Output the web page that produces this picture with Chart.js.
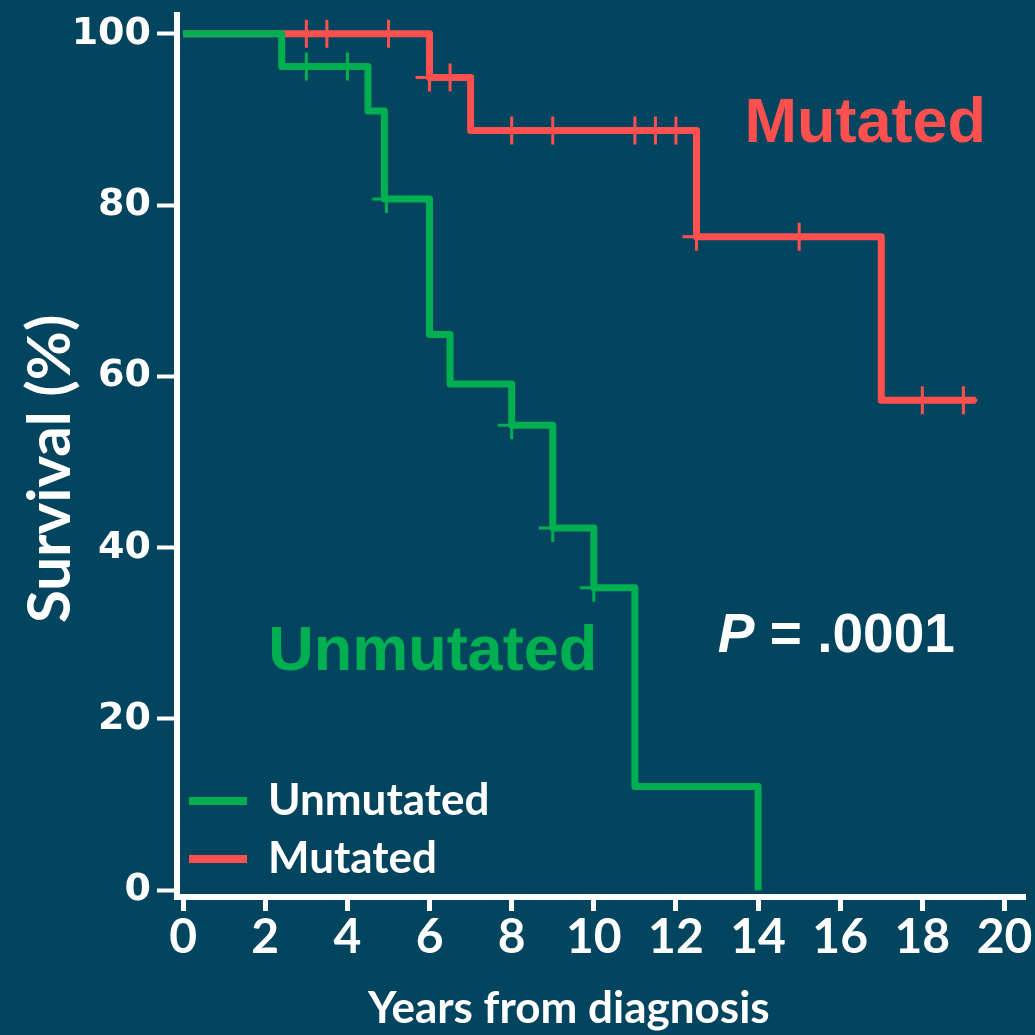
<!DOCTYPE html>
<html>
<head>
<meta charset="utf-8">
<script src="https://cdn.jsdelivr.net/npm/chart.js@4.4.1/dist/chart.umd.min.js"></script>
<style>
    html, body { margin: 0; padding: 0; background: #03445e; overflow: hidden; }
    #wrap { width: 1035px; height: 1035px; position: relative; }
    canvas { display: block; }
</style>
</head>
<body>
<div id="wrap"><canvas id="kmChart"></canvas></div>
<script>
// axis ticks
const xTicks = [0, 2, 4, 6, 8, 10, 12, 14, 16, 18, 20];
const yTicks = [0, 20, 40, 60, 80, 100];

// Unmutated: step curve (time, survival %) and censored cases
const unmutTimes = [0, 2.4, 4.5, 4.9, 6, 6.5, 8, 9, 10, 11, 14];
const unmutSurv = [100, 96.2, 91, 80.7, 64.9, 59.1, 54.3, 42.3, 35.3, 12.1, 0];
const unmutCensTimes = [3, 4, 4.95, 8, 9, 10];
const unmutCensSurv = [96.2, 96.2, 80.7, 54.3, 42.3, 35.3];

// Mutated
const mutTimes = [0, 6, 7, 12.5, 17, 19.3];
const mutSurv = [100, 94.9, 88.7, 76.3, 57.2, 57.2];
const mutCensTimes = [3, 3.5, 5, 6, 6.5, 8, 9, 11, 11.5, 12, 12.5, 15, 18, 19];
const mutCensSurv = [100, 100, 100, 94.9, 94.9, 88.7, 88.7, 88.7, 88.7, 88.7, 76.3, 76.3, 57.2, 57.2];

const GREEN = '#00b050';
const RED = '#ff5050';
const WHITE = '#ffffff';

const toPts = (xs, ys) => xs.map((x, i) => ({ x: x, y: ys[i] }));

// text drawn on the plot, anchored in data units
const notes = [
    { text: 'Mutated', x: 13.67, y: 87.4, color: RED, font: 'bold 63px "Liberation Sans", Arial, sans-serif' },
    { text: 'Unmutated', x: 2.07, y: 25.7, color: GREEN, font: 'bold 63px "Liberation Sans", Arial, sans-serif' }
];

const legendItems = [
    { label: 'Unmutated', color: GREEN },
    { label: 'Mutated', color: RED }
];

const overlayPlugin = {
    id: 'overlay',
    afterDatasetsDraw(chart) {
        const { ctx, chartArea, scales: { x, y } } = chart;
        ctx.save();
        ctx.textBaseline = 'alphabetic';
        ctx.textAlign = 'left';

        notes.forEach(n => {
            ctx.fillStyle = n.color;
            ctx.font = n.font;
            ctx.fillText(n.text, x.getPixelForValue(n.x), y.getPixelForValue(n.y));
        });

        // P value, italic P
        const px = x.getPixelForValue(13.02);
        const py = y.getPixelForValue(27.8);
        ctx.fillStyle = WHITE;
        ctx.font = 'italic bold 55px "Liberation Sans", Arial, sans-serif';
        ctx.fillText('P', px, py);
        const pw = ctx.measureText('P').width;
        ctx.font = 'bold 55px "Liberation Sans", Arial, sans-serif';
        ctx.fillText(' = .0001', px + pw, py);

        // axis titles (both sit a little off the axis centre in the original)
        ctx.textAlign = 'center';
        ctx.font = 'bold 44px Lato, sans-serif';
        ctx.fillText('Years from diagnosis', x.getPixelForValue(9.39), chartArea.bottom + 126);

        ctx.save();
        ctx.translate(70, y.getPixelForValue(49.2));
        ctx.rotate(-Math.PI / 2);
        ctx.font = 'bold 60px Lato, sans-serif';
        ctx.fillText('Survival (%)', 0, 0);
        ctx.restore();

        // legend, lower left of the plot
        ctx.textAlign = 'left';
        ctx.textBaseline = 'middle';
        ctx.font = 'bold 44px Lato, sans-serif';
        legendItems.forEach((item, i) => {
            const ly = 801 + i * 58;
            ctx.fillStyle = item.color;
            ctx.fillRect(189, ly - 4, 58, 8);
            ctx.fillStyle = WHITE;
            ctx.fillText(item.label, 268, ly);
        });
        ctx.restore();
    }
};

const censorSet = (xs, ys, color) => ({
    data: toPts(xs, ys),
    showLine: false,
    pointStyle: 'cross',
    pointRadius: 14,
    pointHoverRadius: 14,
    pointBorderWidth: 3,
    pointBorderColor: color,
    borderColor: color
});

const stepSet = (xs, ys, color) => ({
    data: toPts(xs, ys),
    stepped: 'before',
    borderColor: color,
    borderWidth: 7,
    borderJoinStyle: 'round',
    pointRadius: 0,
    fill: false
});

new Chart(document.getElementById('kmChart'), {
    type: 'line',
    data: {
        datasets: [
            censorSet(unmutCensTimes, unmutCensSurv, GREEN),
            censorSet(mutCensTimes, mutCensSurv, RED),
            stepSet(unmutTimes, unmutSurv, GREEN),
            stepSet(mutTimes, mutSurv, RED)
        ]
    },
    options: {
        responsive: true,
        maintainAspectRatio: false,
        animation: false,
        layout: { autoPadding: false, padding: { top: 15, right: 10, left: 0, bottom: 0 } },
        plugins: {
            legend: { display: false },
            tooltip: { enabled: false }
        },
        scales: {
            x: {
                type: 'linear',
                min: -0.15,
                max: 20.5,
                afterBuildTicks: axis => { axis.ticks = xTicks.map(v => ({ value: v })); },
                afterFit: axis => {
                    axis.height = 138;
                    axis.paddingLeft = 0;
                    axis.paddingRight = 0;
                },
                border: { display: true, color: WHITE, width: 6 },
                grid: { drawOnChartArea: false, drawTicks: true, tickLength: 14, tickWidth: 5, tickColor: WHITE },
                ticks: {
                    color: WHITE,
                    padding: -2,
                    maxRotation: 0,
                    autoSkip: false,
                    font: { family: 'Lato, sans-serif', size: 48, weight: 'bold' }
                },
                title: { display: false }
            },
            y: {
                type: 'linear',
                min: -0.8,
                max: 102.2,
                afterBuildTicks: axis => { axis.ticks = yTicks.map(v => ({ value: v })); },
                afterFit: axis => {
                    axis.width = 177;
                    axis.paddingTop = 0;
                    axis.paddingBottom = 0;
                },
                border: { display: true, color: WHITE, width: 6 },
                grid: { drawOnChartArea: false, drawTicks: true, tickLength: 20, tickWidth: 4, tickColor: WHITE },
                ticks: {
                    color: WHITE,
                    padding: 6,
                    autoSkip: false,
                    font: { family: '"DejaVu Sans", sans-serif', size: 38, weight: 'bold' }
                },
                title: { display: false }
            }
        }
    },
    plugins: [overlayPlugin]
});
</script>
</body>
</html>
